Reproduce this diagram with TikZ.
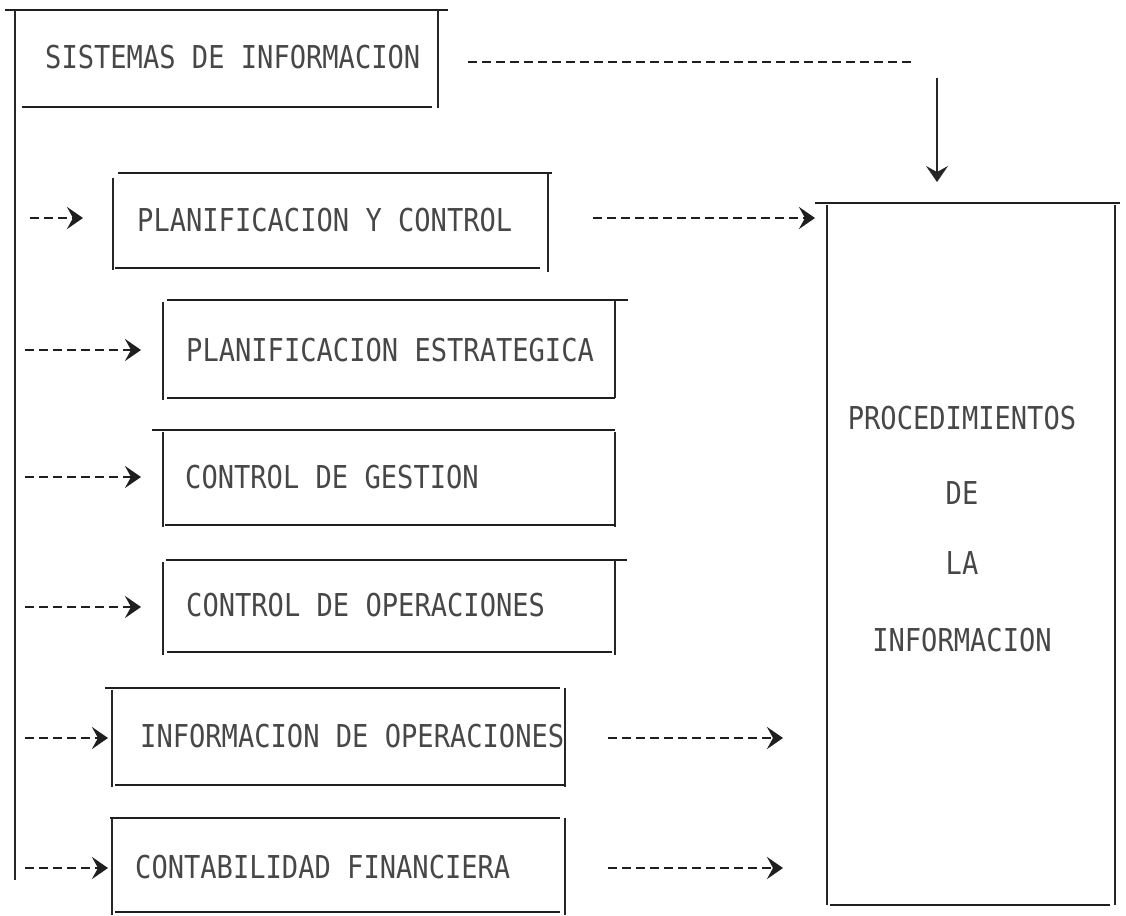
\documentclass[tikz,border=0pt]{standalone}
\usepackage{fontspec}
\newfontfamily\typew[FakeStretch=0.86]{DejaVu Sans Mono}
\usetikzlibrary{arrows.meta}
\begin{document}
\begin{tikzpicture}[x=1pt,y=-1pt,
  hrule/.style={line width=2.6pt, black!88},
  vrule/.style={line width=1.4pt, black!85},
  dashlink/.style={line width=2.6pt, black!88, dash pattern=on 9pt off 5pt},
  tip/.style={-{Stealth[length=16pt,width=22pt,inset=6pt]}},
  txt/.style={font=\typew\fontsize{31.5}{33}\selectfont, text=black!72, inner sep=0pt},
  txtw/.style={txt, anchor=west}]
\useasboundingbox (0,0) rectangle (1126,915);

% --- frames, typed as rules that do not quite meet ---
% SISTEMAS DE INFORMACION (its left side runs down as the spine)
\draw[hrule] (5,10) -- (448,10);
\draw[vrule] (15,10) -- (15,880);
\draw[vrule] (438,10) -- (438,108);
\draw[hrule] (22,107) -- (432,107);
% PLANIFICACION Y CONTROL
\draw[vrule] (113,178) -- (113,270);
\draw[hrule] (118,173) -- (552,173);
\draw[vrule] (548,173) -- (548,272);
\draw[hrule] (115,268) -- (540,268);
% PLANIFICACION ESTRATEGICA
\draw[hrule] (167,300) -- (628,300);
\draw[vrule] (163,302) -- (163,400);
\draw[vrule] (615,300) -- (615,398);
\draw[hrule] (167,398) -- (615,398);
% CONTROL DE GESTION
\draw[hrule] (152,430) -- (615,430);
\draw[vrule] (163,432) -- (163,527);
\draw[vrule] (615,432) -- (615,527);
\draw[hrule] (165,525) -- (615,525);
% CONTROL DE OPERACIONES
\draw[hrule] (166,560) -- (627,560);
\draw[vrule] (163,562) -- (163,655);
\draw[vrule] (615,560) -- (615,655);
\draw[hrule] (167,652) -- (612,652);
% INFORMACION DE OPERACIONES
\draw[hrule] (105,688) -- (560,688);
\draw[vrule] (112,690) -- (112,787);
\draw[vrule] (565,688) -- (565,787);
\draw[hrule] (115,785) -- (565,785);
% CONTABILIDAD FINANCIERA
\draw[hrule] (110,818) -- (560,818);
\draw[vrule] (112,818) -- (112,915);
\draw[vrule] (565,818) -- (565,915);
\draw[hrule] (115,912) -- (560,912);
% PROCEDIMIENTOS DE LA INFORMACION
\draw[hrule] (815,203) -- (1120,203);
\draw[vrule] (827,205) -- (827,905);
\draw[vrule] (1115,205) -- (1115,905);
\draw[hrule] (830,905) -- (1110,905);

% --- texts ---
\node[txtw] (sis)  at (45,57)   {SISTEMAS DE INFORMACION};
\node[txtw] (pyc)  at (137,220) {PLANIFICACION Y CONTROL};
\node[txtw] (pest) at (186,350) {PLANIFICACION ESTRATEGICA};
\node[txtw] (cges) at (185,477) {CONTROL DE GESTION};
\node[txtw] (cop)  at (186,605) {CONTROL DE OPERACIONES};
\node[txtw] (iop)  at (140,736) {INFORMACION DE OPERACIONES};
\node[txtw] (cfin) at (135,867) {CONTABILIDAD FINANCIERA};
\node[txt] (proc1) at (962,418) {PROCEDIMIENTOS};
\node[txt] (proc2) at (962,493) {DE};
\node[txt] (proc3) at (962,563) {LA};
\node[txt] (proc4) at (962,640) {INFORMACION};

% --- connector ends ---
\coordinate (s0) at (468,62);   \coordinate (s1) at (915,62);
\coordinate (d0) at (937,78);   \coordinate (d1) at (937,182);
\coordinate (p0) at (30,218);   \coordinate (p1) at (83,218);
\coordinate (q0) at (593,218);  \coordinate (q1) at (815,218);
\coordinate (e0) at (25,350);   \coordinate (e1) at (141,350);
\coordinate (g0) at (25,477);   \coordinate (g1) at (141,477);
\coordinate (o0) at (25,607);   \coordinate (o1) at (141,607);
\coordinate (i0) at (25,738);   \coordinate (i1) at (108,738);
\coordinate (j0) at (608,738);  \coordinate (j1) at (783,738);
\coordinate (c0) at (25,868);   \coordinate (c1) at (108,868);
\coordinate (k0) at (608,868);  \coordinate (k1) at (783,868);

% --- connectors ---
\draw[dashlink] (s0) -- (s1);
\draw[line width=1.4pt, black!85, tip] (d0) -- (d1);
\foreach \a/\b in {p0/p1, q0/q1, e0/e1, g0/g1, o0/o1, i0/i1, j0/j1, c0/c1, k0/k1}
  \draw[dashlink, tip] (\a) -- (\b);
\end{tikzpicture}
\end{document}
